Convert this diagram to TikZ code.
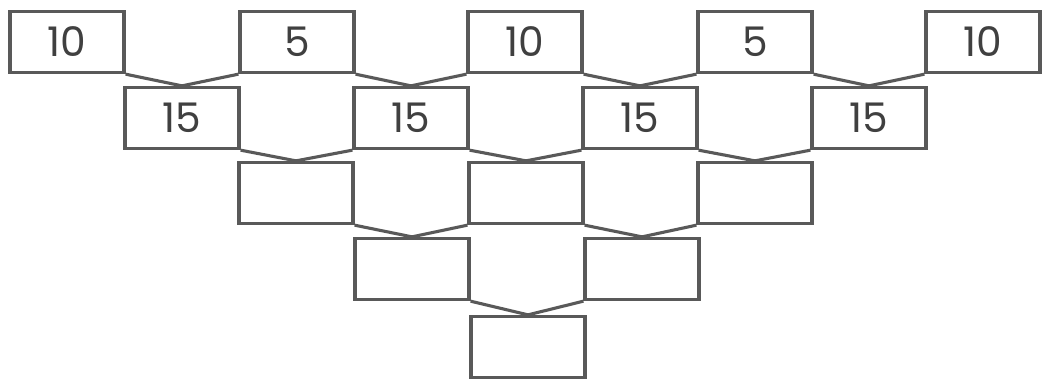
\documentclass[tikz,border=0pt]{standalone}
\usepackage{fontspec}
\setmainfont{Poppins}

\begin{document}
\begin{tikzpicture}[x=0.025cm,y=-0.025cm,line width=2.2pt,draw=black!65]
  \tikzstyle{box}=[draw=black!65,rectangle,minimum width=2.85cm,minimum height=1.53cm,
    inner sep=0pt,text=black!75,font=\fontsize{29}{29}\selectfont]
  \useasboundingbox (0,0) rectangle (1043,383);

  % rows of the pyramid
  \foreach \name/\v/\x in {1/10/67, 2/5/297, 3/10/525, 4/5/755, 5/10/983}
    \node[box] (a\name) at (\x,42) {\v};
  \foreach \name/\x in {1/182, 2/411, 3/640, 4/869}
    \node[box] (b\name) at (\x,118) {15};
  \foreach \name/\x in {1/296, 2/526, 3/755}
    \node[box] (c\name) at (\x,193) {};
  \foreach \name/\x in {1/412, 2/642}
    \node[box] (d\name) at (\x,269) {};
  \node[box] (e1) at (528,347) {};

  \foreach \from/\to in {a1/b1, a2/b2, a3/b3, a4/b4, b1/c1, b2/c2, b3/c3, c1/d1, c2/d2, d1/e1}
    \draw (\from.south east) -- (\to.north);
  \foreach \from/\to in {a2/b1, a3/b2, a4/b3, a5/b4, b2/c1, b3/c2, b4/c3, c2/d1, c3/d2, d2/e1}
    \draw (\from.south west) -- (\to.north);
\end{tikzpicture}
\end{document}
